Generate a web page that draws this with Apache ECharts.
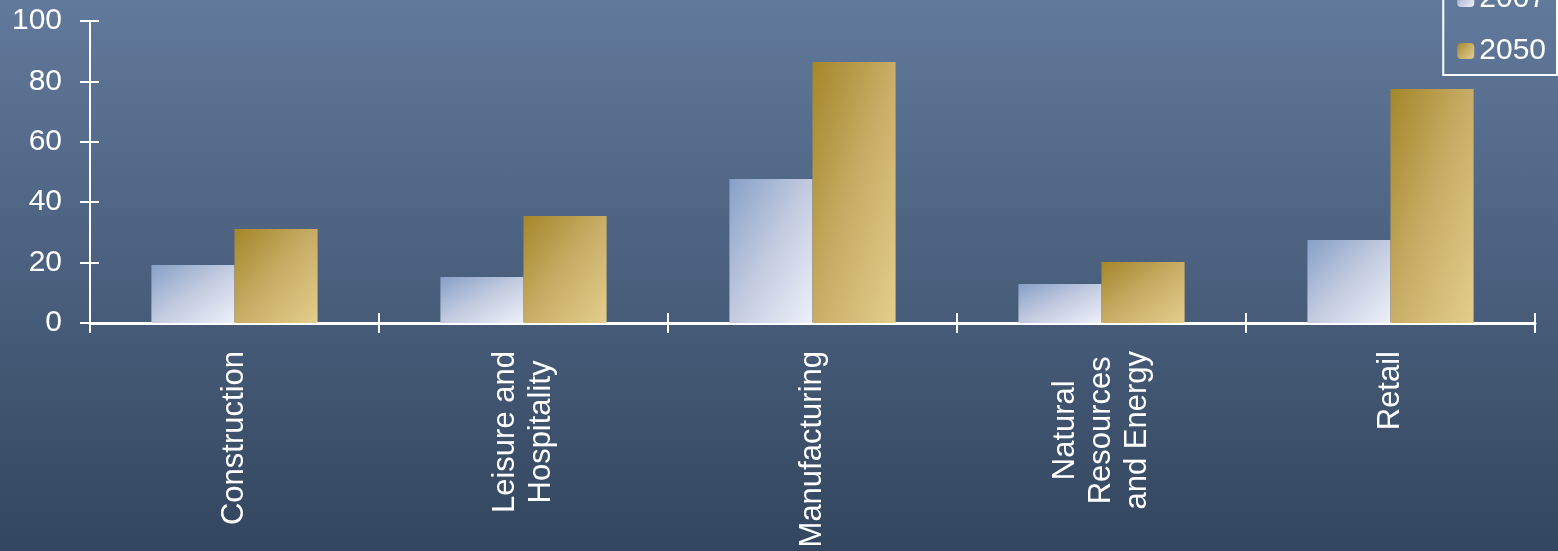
<!DOCTYPE html>
<html>
<head>
<meta charset="utf-8">
<script src="https://cdn.jsdelivr.net/npm/echarts@6/dist/echarts.min.js"></script>
<style>
html,body{margin:0;padding:0;}
#c{width:1558px;height:551px;background:linear-gradient(to bottom,#61799b 0%,#33465f 100%);}
</style>
</head>
<body>
<div id="c"></div>
<script>
const categories = ['Construction', 'Leisure and\nHospitality', 'Manufacturing', 'Natural\nResources\nand Energy', 'Retail'];
const seriesNames = ['2007', '2050'];
const values2007 = [19.2, 15.2, 47.7, 12.9, 27.5];
const values2050 = [31.1, 35.4, 86.4, 20.2, 77.5];
const yTicks = [0, 20, 40, 60, 80, 100];

const FONT = '"Liberation Sans", Arial, sans-serif';
const chart = echarts.init(document.getElementById('c'), null, {renderer: 'canvas'});

const stops2007 = [
  {offset: 0, color: '#86a0c6'},
  {offset: 0.5, color: '#c3cbe0'},
  {offset: 1, color: '#eef1fa'}
];
const stops2050 = [
  {offset: 0, color: '#a4862a'},
  {offset: 0.5, color: '#c8ad66'},
  {offset: 1, color: '#e4ce8c'}
];
const CAT_GAP = 0.425;

const option = {
  animation: false,
  backgroundColor: 'transparent',
  textStyle: {fontFamily: FONT},
  grid: {left: 90, right: 23, top: 21, bottom: 228, containLabel: false},
  legend: {
    orient: 'vertical',
    right: 1,
    top: -25,
    padding: [9, 11, 9, 14],
    borderColor: '#ffffff',
    borderWidth: 2,
    itemWidth: 17,
    itemHeight: 16,
    itemGap: 22,
    data: seriesNames,
    textStyle: {color: '#ffffff', fontSize: 30, lineHeight: 30, fontFamily: FONT}
  },
  xAxis: [{
    type: 'category',
    data: categories,
    axisLine: {lineStyle: {color: '#ffffff', width: 3}},
    axisTick: {show: true, length: 10, lineStyle: {color: '#ffffff', width: 2}},
    axisLabel: {
      interval: 0,
      rotate: 90,
      margin: 28,
      color: '#ffffff',
      fontSize: 31,
      fontFamily: FONT,
      lineHeight: 36,
      formatter: function (v) {
        return v.split('\n').map(function (s) { return '{c|' + s + '}'; }).join('\n');
      },
      rich: {c: {align: 'center', color: '#ffffff', fontSize: 31, lineHeight: 36, fontFamily: FONT}}
    },
    splitLine: {show: false}
  }, {
    type: 'category',
    data: categories,
    position: 'bottom',
    axisLine: {show: false},
    axisTick: {show: true, inside: true, length: 10, lineStyle: {color: '#ffffff', width: 2}},
    axisLabel: {show: false},
    splitLine: {show: false}
  }],
  yAxis: [{
    type: 'value',
    min: 0,
    max: 100,
    interval: 20,
    axisLine: {show: true, lineStyle: {color: '#ffffff', width: 2}},
    axisTick: {show: true, length: 10, lineStyle: {color: '#ffffff', width: 2}},
    axisLabel: {
      margin: 28,
      color: '#ffffff',
      fontSize: 30,
      fontFamily: FONT,
      customValues: yTicks
    },
    splitLine: {show: false}
  }, {
    type: 'value',
    min: 0,
    max: 100,
    interval: 20,
    position: 'left',
    axisLine: {show: false},
    axisTick: {show: true, inside: true, length: 9, lineStyle: {color: '#ffffff', width: 2}},
    axisLabel: {show: false},
    splitLine: {show: false}
  }],
  series: [{
    name: seriesNames[0],
    type: 'bar',
    data: values2007,
    barGap: '0%',
    barCategoryGap: (CAT_GAP * 100) + '%',
    itemStyle: {color: new echarts.graphic.LinearGradient(0, 0, 1, 1, stops2007)}
  }, {
    name: seriesNames[1],
    type: 'bar',
    data: values2050,
    barGap: '0%',
    barCategoryGap: (CAT_GAP * 100) + '%',
    itemStyle: {color: new echarts.graphic.LinearGradient(0, 0, 1, 1, stops2050)}
  }]
};
chart.setOption(option);

// Shape-scaled diagonal gradient (isolines along the bar's anti-diagonal)
function scaledGradient(w, h, stops) {
  const d = w * w + h * h;
  return new echarts.graphic.LinearGradient(0, 0, 2 * h * h / d, 2 * w * w / d, stops);
}
const x0 = chart.convertToPixel({xAxisIndex: 0}, 0);
const x1 = chart.convertToPixel({xAxisIndex: 0}, 1);
const barW = Math.abs(x1 - x0) * (1 - CAT_GAP) / 2;
const yZero = chart.convertToPixel({yAxisIndex: 0}, 0);
function items(vals, stops) {
  return vals.map(function (v) {
    const h = Math.abs(yZero - chart.convertToPixel({yAxisIndex: 0}, v));
    return {value: v, itemStyle: {color: scaledGradient(barW, h, stops)}};
  });
}
chart.setOption({
  series: [
    {data: items(values2007, stops2007)},
    {data: items(values2050, stops2050)}
  ]
});
</script>
</body>
</html>
